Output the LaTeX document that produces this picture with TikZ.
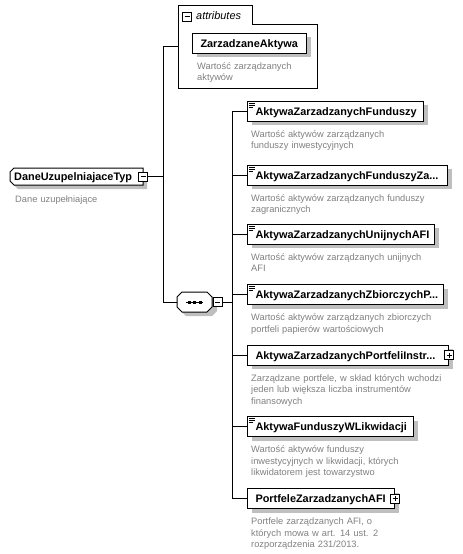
\documentclass[tikz,border=0pt]{standalone}
\usepackage{fontspec}
\setmainfont{Liberation Sans}
\usetikzlibrary{shadows}
\begin{document}
\begin{tikzpicture}[x=1pt,y=-1pt,
  conn/.style={line width=1pt},
  shd/.style={general shadow={fill=black!25, shadow xshift=4pt, shadow yshift=-4pt}},
  lbl/.style={font=\fontsize{10.9}{12}\selectfont\bfseries},
  elbox/.style={draw, line width=1pt, fill=white, anchor=west, minimum height=20pt,
     inner ysep=0pt, inner xsep=8pt, align=left, text height=8pt, text depth=0pt, lbl, shd},
  desc/.style={font=\fontsize{9.3}{11.5}\selectfont, text=black!50, align=left,
     anchor=base west, inner sep=0pt, text width=220pt},
  pm/.style={draw, line width=0.8pt, fill=white, minimum size=9pt, inner sep=0pt},
  stype/.style={line width=0.6pt}]
\useasboundingbox (0,0) rectangle (463,554);

% ---------- root ----------
\fill[black!25] (18,172) -- (147,172) -- (147,189) -- (18,189) -- (14,185) -- (14,176) -- cycle;
\draw[line width=1pt, fill=white] (14,168) -- (143,168) -- (143,185) -- (14,185) -- (10,181) -- (10,172) -- cycle;
\node[lbl, anchor=west, inner sep=0pt, text height=8pt, text depth=0pt] (root) at (14,176.5) {DaneUzupelniajaceTyp};
\node[pm] (rootm) at (143,176.5) {};
\draw[line width=0.8pt] ([xshift=-2.5pt]rootm.center) -- ([xshift=2.5pt]rootm.center);
\node[desc] (rootd) at (15,202) {Dane uzupełniające};

\coordinate (j1) at (163,176.5);
\draw[conn] (rootm.east) -- (j1);

% ---------- attributes ----------
\node[minimum width=139pt, minimum height=83pt, inner sep=0pt, anchor=north west] (attr) at (178,5) {};
\draw[line width=1pt] (178,5) -- (252,5) -- (252,24) -- (317,24) -- (317,88) -- (178,88) -- cycle;
\node[pm] (attrm) at (187,16.5) {};
\draw[line width=0.8pt] ([xshift=-2.5pt]attrm.center) -- ([xshift=2.5pt]attrm.center);
\node[font=\fontsize{10.9}{12}\selectfont\itshape, anchor=west, inner sep=0pt] (attrt) at (196,16) {attributes};
\node[elbox, text width=98pt] (za) at (192,43) {ZarzadzaneAktywa};
\node[desc] (zad) at (197,69) {Wartość zarządzanych\\aktywów};
\draw[conn] (j1) |- (attr.west);

% ---------- sequence ----------
\fill[black!25] (186,296) -- (212,296) -- (217,301) -- (217,311) -- (212,316) -- (186,316) -- (181,311) -- (181,301) -- cycle;
\node[minimum width=35pt, minimum height=20pt, inner sep=0pt] (seq) at (194.5,302) {};
\draw[line width=1pt, fill=white] (182,292) -- (207,292) -- (212,297) -- (212,307) -- (207,312) -- (182,312) -- (177,307) -- (177,297) -- cycle;
\draw[line width=1pt] (186,302) -- (203,302);
\foreach \dx in {189,194.5,200} \fill (\dx-1.5,300.5) rectangle (\dx+1.5,303.5);
\node[pm] (seqm) at (217.5,302) {};
\draw[line width=0.8pt] ([xshift=-2.5pt]seqm.center) -- ([xshift=2.5pt]seqm.center);
\draw[conn] (j1) |- (seq.west);
\coordinate (j2) at (232,302);
\draw[conn] (seqm.east) -- (j2);

% ---------- elements ----------
\node[elbox, text width=160pt] (e1) at (247,111) {AktywaZarzadzanychFunduszy};
\node[desc] (d1) at (251,137) {Wartość aktywów zarządzanych\\funduszy inwestycyjnych};

\node[elbox, text width=184pt] (e2) at (247,175) {AktywaZarzadzanychFunduszyZa...};
\node[desc] (d2) at (251,201) {Wartość aktywów zarządzanych funduszy\\zagranicznych};

\node[elbox, text width=171pt] (e3) at (247,234) {AktywaZarzadzanychUnijnychAFI};
\node[desc] (d3) at (251,260) {Wartość aktywów zarządzanych unijnych\\AFI};

\node[elbox, text width=180pt] (e4) at (247,294.5) {AktywaZarzadzanychZbiorczychP...};
\node[desc] (d4) at (251,320.5) {Wartość aktywów zarządzanych zbiorczych\\portfeli papierów wartościowych};

\node[elbox, text width=185pt] (e5) at (247,355) {AktywaZarzadzanychPortfeliInstr...};
\node[pm] (e5p) at (e5.east) {};
\draw[line width=0.8pt] ([xshift=-2.5pt]e5p.center) -- ([xshift=2.5pt]e5p.center)
  ([yshift=-2.5pt]e5p.center) -- ([yshift=2.5pt]e5p.center);
\node[desc] (d5) at (251,381) {Zarządzane portfele, w skład których wchodzi\\jeden lub większa liczba instrumentów\\finansowych};

\node[elbox, text width=150pt] (e6) at (247,426.5) {AktywaFunduszyWLikwidacji};
\node[desc] (d6) at (251,452.5) {Wartość aktywów funduszy\\inwestycyjnych w likwidacji, których\\likwidatorem jest towarzystwo};

\node[elbox, text width=131pt] (e7) at (247,498.5) {PortfeleZarzadzanychAFI};
\node[pm] (e7p) at (e7.east) {};
\draw[line width=0.8pt] ([xshift=-2.5pt]e7p.center) -- ([xshift=2.5pt]e7p.center)
  ([yshift=-2.5pt]e7p.center) -- ([yshift=2.5pt]e7p.center);
\node[desc] (d7) at (251,524.5) {Portfele zarządzanych AFI, o\\których mowa w art. 14 ust. 2\\rozporządzenia 231/2013.};

% simple-type icons
\foreach \e in {e1,e2,e3,e4,e6}
  \draw[stype] ([shift={(2,2.5)}]\e.north west) -- ++(6,0)
               ([shift={(2,4.5)}]\e.north west) -- ++(6,0)
               ([shift={(2,6.5)}]\e.north west) -- ++(4,0);

% connectors
\foreach \e in {e1,e2,e3,e4,e5,e6,e7}
  \draw[conn] (j2) |- (\e.west);
\end{tikzpicture}
\end{document}
